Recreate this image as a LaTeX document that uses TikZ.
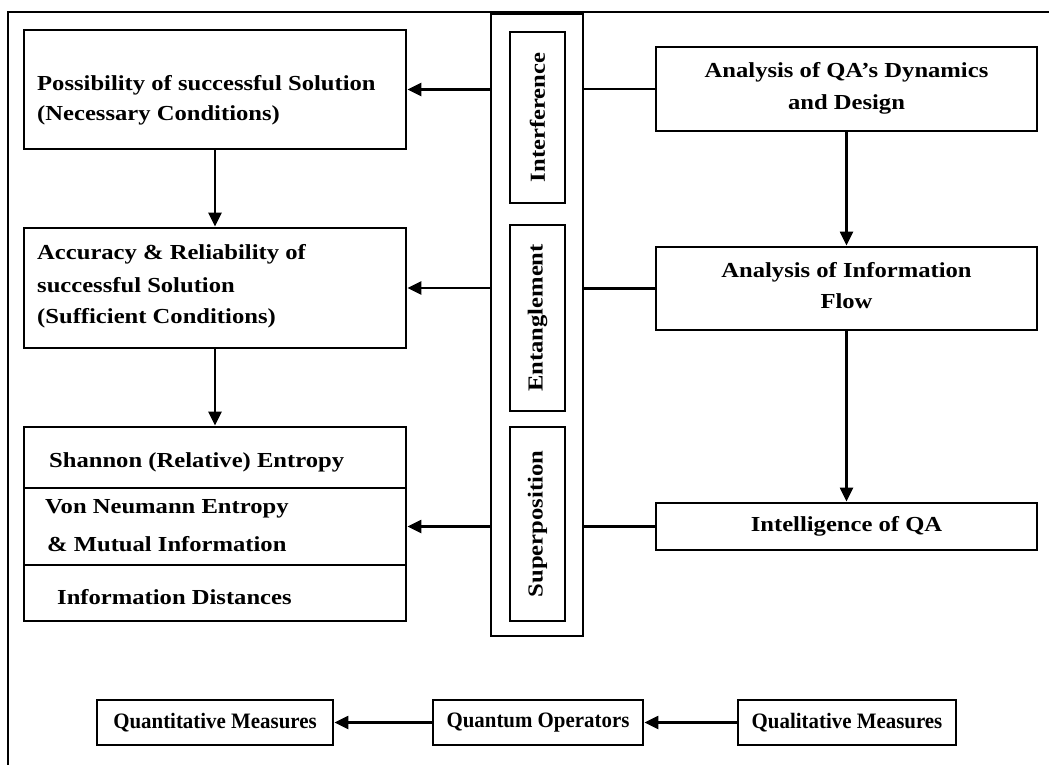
\documentclass[tikz,border=0pt]{standalone}
\usepackage{fontspec}
\setmainfont{Liberation Serif}
\newfontfamily\boxfont{Liberation Serif}[FakeStretch=1.15]
\newfontfamily\rowfont{Liberation Serif}[FakeStretch=0.95]
\usetikzlibrary{arrows.meta}
\begin{document}
\begin{tikzpicture}[x=1pt,y=-1pt,
  box/.style={draw, line width=2.8pt, rectangle, inner sep=0pt},
  thinbox/.style={draw, line width=2.4pt, rectangle, inner sep=0pt},
  lbl/.style={font=\boxfont\bfseries\fontsize{21.4}{24}\selectfont, inner sep=0pt},
  small/.style={font=\rowfont\bfseries\fontsize{22}{25}\selectfont},
  conn/.style={line width=2.3pt},
  arr/.style={conn, -{Triangle[length=14pt,width=13pt]}},
]
\useasboundingbox (0,0) rectangle (1049,765);
\fill[white] (0,0) rectangle (1049,765);

% outer frame
\coordinate (fbl) at (8,765);
\coordinate (ftl) at (8,12);
\coordinate (ftr) at (1049,12);
\draw[line width=2pt] (fbl) -- (ftl) -- (ftr);

% left column
\node[box, minimum width=382, minimum height=119] (A) at (215,89.5) {};
\node[lbl, anchor=base west] (a1) at (37,91) {Possibility of successful Solution};
\node[lbl, anchor=base west] (a2) at (37,121) {(Necessary Conditions)};

\node[box, minimum width=382, minimum height=120] (B) at (215,288) {};
\node[lbl, anchor=base west] (b1) at (37,259) {Accuracy \& Reliability of};
\node[lbl, anchor=base west] (b2) at (37,292) {successful Solution};
\node[lbl, anchor=base west] (b3) at (37,323) {(Sufficient Conditions)};

\node[box, minimum width=382, minimum height=61] (c1) at (215,457.5) {};
\node[box, minimum width=382, minimum height=77] (c2) at (215,526.5) {};
\node[box, minimum width=382, minimum height=56] (c3) at (215,593) {};
\node[lbl, anchor=base west] (t1) at (49,467) {Shannon (Relative) Entropy};
\node[lbl, anchor=base west] (t2) at (45,513) {Von Neumann Entropy};
\node[lbl, anchor=base west] (t3) at (47,551) {\& Mutual Information};
\node[lbl, anchor=base west] (t4) at (57,604) {Information Distances};

% central column
\node[thinbox, minimum width=92, minimum height=622] (col) at (537,325) {};
\node[box, lbl, rotate=90, minimum width=171, minimum height=55] (intf) at (537.5,117.5) {Interference};
\node[box, lbl, rotate=90, minimum width=186, minimum height=55] (ent) at (537.5,318) {Entanglement};
\node[box, lbl, rotate=90, minimum width=194, minimum height=55] (sup) at (537.5,524) {Superposition};

% right column
\node[box, minimum width=381, minimum height=84] (R1) at (846.5,89) {};
\node[lbl, anchor=base] (r11) at (846.5,78) {Analysis of QA’s Dynamics};
\node[lbl, anchor=base] (r12) at (846.5,110) {and Design};

\node[box, minimum width=381, minimum height=83] (R2) at (846.5,288.5) {};
\node[lbl, anchor=base] (r21) at (846.5,277) {Analysis of Information};
\node[lbl, anchor=base] (r22) at (846.5,308) {Flow};

\node[box, lbl, minimum width=381, minimum height=47] (R3) at (846.5,526.5) {Intelligence of QA};

% bottom row
\node[box, small, minimum width=236, minimum height=45] (Qn) at (215,722.5) {Quantitative Measures};
\node[box, small, minimum width=210, minimum height=45] (QO) at (538,722.5) {Quantum Operators};
\node[box, small, minimum width=218, minimum height=45] (QL) at (847,722.5) {Qualitative Measures};

% connectors
\draw[arr] (col.west |- A.east) -- (A.east);
\draw[arr] (col.west |- B.east) -- (B.east);
\draw[arr] (col.west |- c2.east) -- (c2.east);
\draw[conn] (R1.west) -- (R1.west -| col.east);
\draw[conn] (R2.west) -- (R2.west -| col.east);
\draw[conn] (R3.west) -- (R3.west -| col.east);

\draw[arr] (A.south) -- (B.north);
\draw[arr] (B.south) -- (c1.north);
\draw[arr] (R1.south) -- (R2.north);
\draw[arr] (R2.south) -- (R3.north);

\draw[arr] (QO.west) -- (Qn.east);
\draw[arr] (QL.west) -- (QO.east);
\end{tikzpicture}
\end{document}
